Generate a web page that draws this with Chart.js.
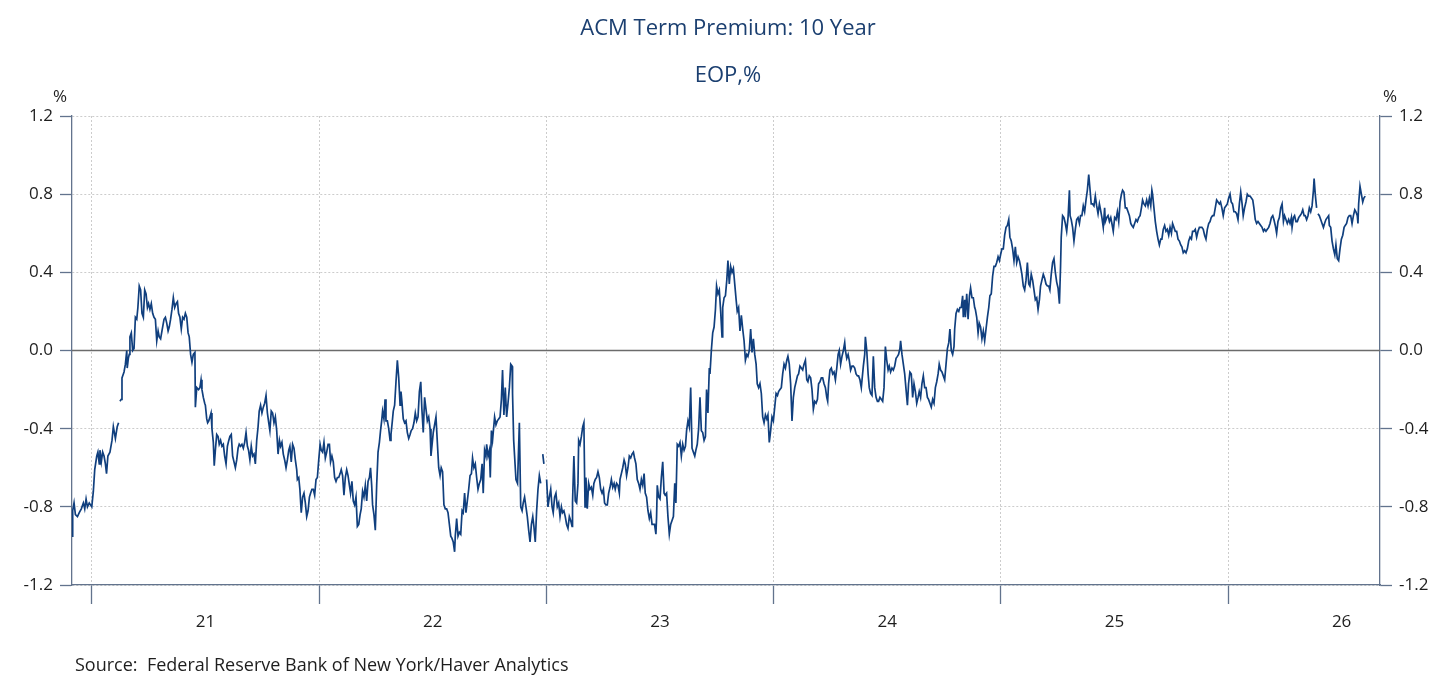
<!DOCTYPE html>
<html lang="en">
<head>
<meta charset="UTF-8">
<title>ACM Term Premium: 10 Year</title>
<style>
  html, body { margin: 0; padding: 0; background: #ffffff; }
  #wrap { width: 1456px; height: 684px; }
</style>
</head>
<body>
<div id="wrap"><canvas id="acmChart" width="1456" height="684"></canvas></div>
<script src="https://cdn.jsdelivr.net/npm/chart.js@4.4.3/dist/chart.umd.min.js"></script>
<script>
// texts
const chartTitle = 'ACM Term Premium: 10 Year';
const chartSubtitle = 'EOP,%';
const unitLabel = '%';
const sourceNote = 'Source:  Federal Reserve Bank of New York/Haver Analytics';

// axes
const years = [2021, 2022, 2023, 2024, 2025, 2026];
const yearLabels = ['21', '22', '23', '24', '25', '26'];
const yTicks = [-1.2, -0.8, -0.4, 0, 0.4, 0.8, 1.2];
const xStart = 2020.912;
const xEnd = 2026.669;

// [decimal year, term premium %]; null = break in the line
const termPremium = [
  [2020.912,-0.95],[2020.915,-0.82],[2020.921,-0.78],[2020.927,-0.84],[2020.936,-0.85],[2020.944,-0.83],[2020.953,-0.81],[2020.962,-0.78],[2020.968,-0.81],[2020.974,-0.76],
  [2020.980,-0.80],[2020.988,-0.78],[2020.999,-0.80],[2021.006,-0.72],[2021.012,-0.61],[2021.021,-0.54],[2021.026,-0.52],[2021.032,-0.58],[2021.035,-0.51],[2021.041,-0.57],
  [2021.047,-0.52],[2021.053,-0.54],[2021.059,-0.58],[2021.064,-0.63],[2021.070,-0.54],[2021.079,-0.52],[2021.088,-0.46],[2021.094,-0.39],[2021.103,-0.45],[2021.111,-0.39],
  [2021.117,-0.37],[2021.120,null],[2021.123,-0.26],[2021.129,-0.25],[2021.132,-0.14],[2021.141,-0.11],[2021.147,-0.07],[2021.153,0.00],[2021.155,-0.09],[2021.160,-0.04],
  [2021.164,-0.02],[2021.167,0.07],[2021.173,0.09],[2021.179,0.00],[2021.185,0.01],[2021.191,0.17],[2021.197,0.16],[2021.202,0.22],[2021.208,0.33],[2021.214,0.31],
  [2021.220,0.19],[2021.226,0.17],[2021.232,0.31],[2021.238,0.29],[2021.244,0.22],[2021.249,0.24],[2021.255,0.21],[2021.261,0.24],[2021.267,0.19],[2021.273,0.17],
  [2021.279,0.16],[2021.285,0.05],[2021.291,0.10],[2021.296,0.07],[2021.302,0.06],[2021.308,0.10],[2021.317,0.16],[2021.323,0.17],[2021.329,0.14],[2021.335,0.10],
  [2021.340,0.12],[2021.346,0.16],[2021.352,0.21],[2021.358,0.27],[2021.364,0.22],[2021.370,0.24],[2021.376,0.25],[2021.381,0.19],[2021.387,0.17],[2021.393,0.11],
  [2021.399,0.17],[2021.405,0.16],[2021.411,0.19],[2021.417,0.17],[2021.423,0.09],[2021.428,0.07],[2021.434,-0.02],[2021.440,-0.06],[2021.446,-0.02],[2021.453,-0.01],
  [2021.455,-0.29],[2021.461,-0.19],[2021.469,-0.20],[2021.475,-0.19],[2021.480,-0.15],[2021.484,-0.20],[2021.490,-0.24],[2021.496,-0.27],[2021.499,-0.28],[2021.505,-0.35],
  [2021.509,-0.37],[2021.514,-0.36],[2021.519,-0.34],[2021.524,-0.32],[2021.528,-0.40],[2021.534,-0.47],[2021.538,-0.59],[2021.543,-0.51],[2021.549,-0.43],[2021.555,-0.44],
  [2021.560,-0.48],[2021.566,-0.46],[2021.572,-0.49],[2021.578,-0.48],[2021.584,-0.54],[2021.590,-0.58],[2021.596,-0.49],[2021.602,-0.46],[2021.607,-0.44],[2021.613,-0.43],
  [2021.619,-0.54],[2021.625,-0.57],[2021.631,-0.60],[2021.637,-0.56],[2021.643,-0.50],[2021.648,-0.48],[2021.654,-0.49],[2021.660,-0.48],[2021.666,-0.50],[2021.672,-0.47],
  [2021.678,-0.42],[2021.684,-0.49],[2021.689,-0.51],[2021.695,-0.56],[2021.701,-0.49],[2021.707,-0.54],[2021.713,-0.53],[2021.719,-0.58],[2021.725,-0.46],[2021.731,-0.39],
  [2021.736,-0.31],[2021.742,-0.28],[2021.748,-0.32],[2021.754,-0.29],[2021.760,-0.27],[2021.766,-0.23],[2021.772,-0.32],[2021.778,-0.37],[2021.783,-0.41],[2021.789,-0.31],
  [2021.795,-0.32],[2021.801,-0.37],[2021.807,-0.34],[2021.813,-0.41],[2021.819,-0.53],[2021.825,-0.46],[2021.830,-0.49],[2021.836,-0.47],[2021.842,-0.53],[2021.848,-0.56],
  [2021.854,-0.60],[2021.860,-0.56],[2021.866,-0.51],[2021.871,-0.49],[2021.877,-0.57],[2021.883,-0.48],[2021.889,-0.50],[2021.895,-0.56],[2021.901,-0.61],[2021.904,-0.66],
  [2021.910,-0.65],[2021.915,-0.71],[2021.921,-0.83],[2021.927,-0.75],[2021.933,-0.73],[2021.939,-0.78],[2021.945,-0.85],[2021.951,-0.82],[2021.957,-0.75],[2021.962,-0.73],
  [2021.968,-0.71],[2021.974,-0.71],[2021.980,-0.74],[2021.986,-0.66],[2021.992,-0.65],[2021.998,-0.56],[2022.004,-0.48],[2022.009,-0.51],[2022.015,-0.52],[2022.021,-0.47],
  [2022.027,-0.55],[2022.033,-0.52],[2022.039,-0.48],[2022.045,-0.48],[2022.050,-0.57],[2022.056,-0.54],[2022.062,-0.57],[2022.068,-0.65],[2022.074,-0.67],[2022.080,-0.65],
  [2022.086,-0.65],[2022.092,-0.63],[2022.097,-0.61],[2022.103,-0.64],[2022.109,-0.74],[2022.115,-0.65],[2022.121,-0.61],[2022.127,-0.64],[2022.133,-0.69],[2022.138,-0.73],
  [2022.144,-0.67],[2022.150,-0.77],[2022.156,-0.79],[2022.162,-0.75],[2022.168,-0.90],[2022.174,-0.89],[2022.180,-0.84],[2022.185,-0.81],[2022.191,-0.72],[2022.197,-0.75],
  [2022.203,-0.69],[2022.209,-0.77],[2022.215,-0.67],[2022.221,-0.65],[2022.226,-0.60],[2022.231,-0.69],[2022.235,-0.79],[2022.241,-0.84],[2022.247,-0.92],[2022.253,-0.69],
  [2022.259,-0.52],[2022.265,-0.47],[2022.270,-0.41],[2022.275,-0.36],[2022.279,-0.31],[2022.285,-0.35],[2022.290,-0.25],[2022.294,-0.36],[2022.300,-0.36],[2022.306,-0.40],
  [2022.312,-0.46],[2022.316,-0.43],[2022.322,-0.36],[2022.326,-0.31],[2022.332,-0.28],[2022.338,-0.16],[2022.344,-0.05],[2022.350,-0.14],[2022.356,-0.28],[2022.360,-0.21],
  [2022.364,-0.26],[2022.370,-0.35],[2022.376,-0.37],[2022.382,-0.36],[2022.388,-0.42],[2022.394,-0.45],[2022.400,-0.43],[2022.405,-0.41],[2022.411,-0.40],[2022.417,-0.37],
  [2022.423,-0.32],[2022.429,-0.36],[2022.435,-0.34],[2022.441,-0.21],[2022.447,-0.16],[2022.452,-0.30],[2022.458,-0.42],[2022.464,-0.24],[2022.470,-0.30],[2022.476,-0.36],
  [2022.482,-0.34],[2022.488,-0.40],[2022.492,-0.54],[2022.502,-0.42],[2022.508,-0.38],[2022.514,-0.34],[2022.520,-0.47],[2022.526,-0.60],[2022.532,-0.64],[2022.537,-0.60],
  [2022.543,-0.62],[2022.549,-0.79],[2022.555,-0.81],[2022.561,-0.81],[2022.567,-0.83],[2022.573,-0.89],[2022.579,-0.95],[2022.584,-0.96],[2022.590,-0.98],[2022.596,-1.03],
  [2022.599,-0.95],[2022.605,-0.86],[2022.611,-0.95],[2022.617,-0.93],[2022.623,-0.94],[2022.629,-0.82],[2022.634,-0.83],[2022.640,-0.73],[2022.646,-0.83],[2022.652,-0.77],
  [2022.658,-0.71],[2022.664,-0.64],[2022.670,-0.63],[2022.675,-0.55],[2022.681,-0.60],[2022.687,-0.58],[2022.693,-0.65],[2022.699,-0.71],[2022.705,-0.68],[2022.711,-0.66],
  [2022.717,-0.58],[2022.722,-0.73],[2022.728,-0.51],[2022.734,-0.54],[2022.737,-0.48],[2022.743,-0.54],[2022.749,-0.51],[2022.753,-0.65],[2022.758,-0.41],[2022.763,-0.46],
  [2022.772,-0.34],[2022.778,-0.38],[2022.784,-0.36],[2022.790,-0.35],[2022.796,-0.34],[2022.802,-0.25],[2022.807,-0.10],[2022.813,-0.33],[2022.819,-0.19],[2022.825,-0.34],
  [2022.831,-0.27],[2022.837,-0.19],[2022.843,-0.07],[2022.849,-0.08],[2022.851,-0.22],[2022.856,-0.46],[2022.866,-0.66],[2022.873,-0.68],[2022.881,-0.37],[2022.887,-0.80],
  [2022.893,-0.82],[2022.898,-0.78],[2022.904,-0.75],[2022.910,-0.80],[2022.916,-0.85],[2022.922,-0.92],[2022.928,-0.98],[2022.934,-0.89],[2022.940,-0.85],[2022.945,-0.90],
  [2022.951,-0.98],[2022.957,-0.82],[2022.963,-0.71],[2022.969,-0.64],[2022.975,-0.68],[2022.979,null],[2022.984,-0.53],[2022.989,-0.58],[2022.995,null],[2023.001,-0.66],
  [2023.007,-0.80],[2023.013,-0.75],[2023.019,-0.71],[2023.025,-0.80],[2023.030,-0.83],[2023.036,-0.75],[2023.042,-0.73],[2023.048,-0.80],[2023.054,-0.78],[2023.060,-0.85],
  [2023.066,-0.80],[2023.071,-0.83],[2023.077,-0.82],[2023.083,-0.85],[2023.089,-0.89],[2023.095,-0.91],[2023.101,-0.85],[2023.107,-0.87],[2023.113,-0.90],[2023.115,-0.78],
  [2023.121,-0.54],[2023.127,-0.77],[2023.133,-0.78],[2023.139,-0.68],[2023.142,-0.46],[2023.148,-0.48],[2023.154,-0.44],[2023.160,-0.39],[2023.165,-0.37],
  [2023.170,-0.80],[2023.174,-0.65],[2023.180,-0.81],[2023.186,-0.68],[2023.192,-0.71],[2023.198,-0.70],[2023.204,-0.74],[2023.209,-0.68],[2023.215,-0.66],[2023.221,-0.65],
  [2023.227,-0.62],[2023.233,-0.65],[2023.239,-0.71],[2023.245,-0.73],[2023.251,-0.71],[2023.256,-0.78],[2023.262,-0.79],[2023.268,-0.79],[2023.274,-0.73],[2023.280,-0.70],
  [2023.286,-0.66],[2023.292,-0.70],[2023.298,-0.68],[2023.303,-0.71],[2023.309,-0.68],[2023.315,-0.69],[2023.321,-0.73],[2023.324,-0.66],[2023.330,-0.63],[2023.336,-0.60],
  [2023.342,-0.56],[2023.347,-0.58],[2023.353,-0.64],[2023.359,-0.60],[2023.365,-0.54],[2023.371,-0.55],[2023.377,-0.53],[2023.383,-0.52],[2023.388,-0.55],[2023.394,-0.58],
  [2023.400,-0.66],[2023.406,-0.68],[2023.412,-0.71],[2023.418,-0.66],[2023.424,-0.69],[2023.430,-0.63],[2023.435,-0.73],[2023.441,-0.75],[2023.447,-0.82],[2023.453,-0.86],
  [2023.459,-0.83],[2023.465,-0.89],[2023.471,-0.89],[2023.476,-0.89],[2023.482,-0.94],[2023.485,-0.85],[2023.488,-0.69],[2023.494,-0.75],[2023.500,-0.76],[2023.506,-0.65],
  [2023.512,-0.57],[2023.518,-0.73],[2023.523,-0.74],[2023.529,-0.73],[2023.535,-0.85],[2023.541,-0.94],[2023.547,-0.89],[2023.553,-0.87],[2023.559,-0.85],[2023.565,-0.68],
  [2023.570,-0.78],[2023.576,-0.48],[2023.582,-0.49],[2023.588,-0.47],[2023.594,-0.54],[2023.600,-0.48],[2023.606,-0.51],[2023.612,-0.49],[2023.617,-0.41],[2023.623,-0.36],
  [2023.629,-0.39],[2023.635,-0.19],[2023.641,-0.50],[2023.647,-0.52],[2023.653,-0.54],[2023.658,-0.51],[2023.664,-0.48],[2023.670,-0.40],[2023.676,-0.24],[2023.682,-0.41],
  [2023.688,-0.42],[2023.694,-0.46],[2023.700,-0.44],[2023.705,-0.20],[2023.711,-0.32],[2023.717,-0.09],
  [2023.720,-0.12],[2023.726,0.00],[2023.732,0.09],[2023.738,0.12],[2023.744,0.21],[2023.749,0.33],[2023.755,0.29],[2023.761,0.31],[2023.767,0.20],[2023.773,0.07],
  [2023.776,0.22],[2023.782,0.27],[2023.788,0.28],[2023.794,0.36],[2023.799,0.46],[2023.805,0.34],[2023.811,0.43],[2023.817,0.40],[2023.823,0.42],[2023.829,0.34],
  [2023.835,0.26],[2023.840,0.20],[2023.846,0.22],[2023.852,0.10],[2023.858,0.18],[2023.864,0.11],[2023.870,0.05],[2023.876,-0.05],[2023.882,-0.02],[2023.887,-0.03],
  [2023.893,0.00],[2023.899,0.11],[2023.905,-0.01],[2023.911,0.06],[2023.917,-0.02],[2023.923,-0.07],[2023.928,-0.17],[2023.934,-0.19],[2023.940,-0.17],[2023.946,-0.22],
  [2023.952,-0.34],[2023.958,-0.37],[2023.964,-0.33],[2023.970,-0.35],[2023.975,-0.33],[2023.981,-0.47],[2023.987,-0.41],[2023.993,-0.34],[2023.999,-0.36],[2024.005,-0.29],
  [2024.011,-0.22],[2024.017,-0.23],[2024.022,-0.21],[2024.028,-0.20],[2024.034,-0.19],[2024.040,-0.12],[2024.046,-0.07],[2024.052,-0.09],[2024.058,-0.05],[2024.063,-0.03],
  [2024.069,-0.07],[2024.075,-0.17],[2024.081,-0.36],[2024.087,-0.24],[2024.093,-0.19],[2024.099,-0.16],[2024.105,-0.13],[2024.110,-0.12],[2024.116,-0.08],[2024.122,-0.09],
  [2024.128,-0.10],[2024.134,-0.07],[2024.140,-0.05],[2024.146,-0.15],[2024.151,-0.16],[2024.157,-0.13],[2024.163,-0.14],[2024.169,-0.20],[2024.175,-0.30],[2024.181,-0.26],
  [2024.187,-0.27],[2024.193,-0.25],[2024.198,-0.17],[2024.204,-0.16],[2024.210,-0.14],[2024.216,-0.14],[2024.222,-0.17],[2024.228,-0.19],[2024.234,-0.24],[2024.238,-0.26],
  [2024.242,-0.17],[2024.248,-0.10],[2024.254,-0.09],[2024.260,-0.12],[2024.266,-0.11],[2024.272,-0.15],[2024.278,-0.09],[2024.284,-0.02],[2024.289,0.00],[2024.295,-0.07],
  [2024.301,-0.03],[2024.307,0.00],[2024.313,0.04],
  [2024.316,0.00],[2024.322,-0.04],[2024.328,-0.02],[2024.333,-0.05],[2024.339,-0.10],[2024.345,-0.08],[2024.351,-0.08],[2024.357,-0.09],[2024.363,-0.12],[2024.369,-0.13],
  [2024.374,-0.13],[2024.380,-0.15],[2024.386,-0.19],[2024.389,-0.19],[2024.395,-0.08],[2024.401,-0.02],[2024.404,0.07],[2024.410,0.00],[2024.416,-0.12],[2024.421,-0.19],
  [2024.427,-0.22],[2024.433,-0.23],[2024.439,-0.03],[2024.445,-0.19],[2024.451,-0.24],[2024.457,-0.26],[2024.462,-0.26],[2024.468,-0.24],[2024.474,-0.25],[2024.480,-0.26],
  [2024.486,-0.19],[2024.492,0.02],[2024.498,-0.05],[2024.504,-0.10],[2024.509,-0.08],[2024.515,-0.11],[2024.521,-0.09],[2024.527,-0.10],[2024.533,-0.08],[2024.539,-0.04],
  [2024.545,-0.03],[2024.550,-0.02],[2024.556,0.01],[2024.559,0.05],[2024.565,-0.02],[2024.571,-0.07],[2024.577,-0.12],[2024.583,-0.20],[2024.589,-0.28],[2024.594,-0.17],
  [2024.600,-0.11],[2024.606,-0.12],[2024.612,-0.24],[2024.618,-0.17],[2024.624,-0.21],[2024.630,-0.27],[2024.636,-0.24],[2024.641,-0.21],[2024.647,-0.24],[2024.653,-0.17],
  [2024.659,-0.13],[2024.665,-0.19],[2024.671,-0.19],[2024.677,-0.24],[2024.682,-0.25],[2024.688,-0.27],[2024.694,-0.29],[2024.700,-0.25],[2024.706,-0.27],[2024.712,-0.19],
  [2024.718,-0.16],[2024.724,-0.12],[2024.729,-0.07],[2024.735,-0.10],[2024.741,-0.11],[2024.747,-0.13],[2024.753,-0.15],[2024.759,-0.07],[2024.765,0.01],[2024.771,0.04],
  [2024.776,0.11],[2024.782,0.00],[2024.788,-0.02],[2024.794,0.02],[2024.797,0.11],[2024.803,0.19],[2024.809,0.21],[2024.815,0.20],[2024.820,0.22],[2024.826,0.22],
  [2024.832,0.28],[2024.835,0.17],[2024.841,0.26],[2024.844,0.17],[2024.850,0.29],[2024.856,0.16],[2024.862,0.28],[2024.867,0.32],[2024.873,0.27],[2024.879,0.27],
  [2024.885,0.22],
  [2024.888,0.21],[2024.894,0.17],[2024.900,0.09],[2024.905,0.14],[2024.911,0.12],[2024.917,0.06],[2024.923,0.10],[2024.929,0.05],[2024.935,0.11],[2024.941,0.17],
  [2024.947,0.22],[2024.952,0.28],[2024.958,0.29],[2024.964,0.38],[2024.970,0.43],[2024.976,0.43],[2024.982,0.45],[2024.988,0.48],[2024.994,0.46],[2024.999,0.49],
  [2025.005,0.52],[2025.011,0.52],[2025.017,0.59],[2025.023,0.63],[2025.029,0.64],[2025.035,0.67],[2025.040,0.58],[2025.046,0.56],[2025.052,0.52],[2025.058,0.46],
  [2025.064,0.53],[2025.070,0.45],[2025.076,0.48],[2025.082,0.46],[2025.087,0.43],[2025.093,0.39],[2025.099,0.33],[2025.105,0.31],[2025.111,0.36],[2025.117,0.45],
  [2025.123,0.34],[2025.128,0.33],[2025.134,0.39],[2025.140,0.36],[2025.146,0.31],[2025.152,0.26],[2025.158,0.27],[2025.164,0.21],[2025.170,0.26],[2025.175,0.33],
  [2025.181,0.36],[2025.187,0.39],[2025.193,0.37],[2025.199,0.34],[2025.205,0.33],[2025.211,0.33],[2025.216,0.31],[2025.222,0.39],[2025.228,0.45],[2025.234,0.47],
  [2025.240,0.40],[2025.246,0.35],[2025.252,0.32],[2025.258,0.24],[2025.263,0.43],[2025.266,0.58],[2025.272,0.69],[2025.278,0.68],[2025.284,0.65],[2025.290,0.61],
  [2025.296,0.68],[2025.302,0.82],[2025.305,0.69],[2025.310,0.67],[2025.316,0.63],[2025.322,0.56],[2025.328,0.62],[2025.334,0.67],[2025.340,0.68],[2025.346,0.65],
  [2025.351,0.69],[2025.357,0.69],[2025.363,0.74],[2025.369,0.71],[2025.375,0.77],[2025.381,0.82],[2025.387,0.90],[2025.393,0.82],[2025.398,0.75],[2025.404,0.75],
  [2025.410,0.74],[2025.416,0.79],[2025.422,0.74],[2025.428,0.70],[2025.434,0.75],[2025.439,0.72],[2025.445,0.68],[2025.451,0.63],[2025.457,0.73],
  [2025.460,0.66],[2025.466,0.68],[2025.472,0.69],[2025.478,0.66],[2025.484,0.68],[2025.489,0.65],[2025.495,0.61],[2025.501,0.68],[2025.507,0.67],[2025.513,0.71],
  [2025.519,0.66],[2025.525,0.76],[2025.531,0.80],[2025.536,0.82],[2025.542,0.81],[2025.548,0.73],[2025.554,0.73],[2025.560,0.71],[2025.566,0.69],[2025.572,0.65],
  [2025.577,0.64],[2025.583,0.63],[2025.589,0.65],[2025.595,0.67],[2025.601,0.66],[2025.607,0.68],[2025.613,0.69],[2025.619,0.73],[2025.624,0.77],[2025.630,0.75],
  [2025.636,0.74],[2025.642,0.77],[2025.648,0.74],[2025.654,0.78],[2025.660,0.74],[2025.665,0.82],[2025.668,0.80],[2025.674,0.73],[2025.680,0.66],[2025.686,0.61],
  [2025.692,0.57],[2025.698,0.54],[2025.704,0.57],[2025.709,0.57],[2025.715,0.62],[2025.721,0.64],[2025.727,0.61],[2025.733,0.62],[2025.739,0.59],[2025.745,0.63],
  [2025.751,0.60],[2025.756,0.65],[2025.762,0.63],[2025.768,0.61],[2025.774,0.61],[2025.780,0.57],[2025.786,0.56],[2025.792,0.54],[2025.797,0.53],[2025.803,0.50],
  [2025.809,0.51],[2025.815,0.50],[2025.821,0.52],[2025.827,0.56],[2025.833,0.58],[2025.839,0.57],[2025.844,0.61],[2025.850,0.61],[2025.856,0.62],[2025.862,0.58],
  [2025.868,0.61],[2025.874,0.63],[2025.880,0.63],[2025.885,0.63],[2025.891,0.62],[2025.897,0.59],[2025.903,0.57],[2025.909,0.62],[2025.915,0.65],[2025.921,0.66],
  [2025.926,0.68],[2025.932,0.69],[2025.938,0.69],[2025.944,0.73],[2025.950,0.77],[2025.956,0.76],[2025.962,0.75],[2025.967,0.76],[2025.973,0.73],[2025.979,0.69],
  [2025.985,0.73],[2025.991,0.74],[2025.997,0.75],[2026.003,0.78],[2026.009,0.80],[2026.014,0.76],[2026.020,0.75],[2026.026,0.71],
  [2026.032,0.71],[2026.038,0.70],[2026.044,0.67],[2026.050,0.75],[2026.056,0.81],[2026.062,0.75],[2026.067,0.69],[2026.073,0.73],[2026.079,0.76],[2026.085,0.80],
  [2026.091,0.79],[2026.097,0.79],[2026.103,0.78],[2026.109,0.77],[2026.114,0.73],[2026.120,0.67],[2026.126,0.65],[2026.132,0.66],[2026.138,0.65],[2026.144,0.64],
  [2026.150,0.63],[2026.156,0.61],[2026.161,0.62],[2026.167,0.61],[2026.173,0.62],[2026.179,0.63],[2026.185,0.65],[2026.191,0.68],[2026.197,0.69],[2026.202,0.67],
  [2026.208,0.64],[2026.214,0.60],[2026.220,0.66],[2026.226,0.68],[2026.232,0.73],[2026.238,0.75],[2026.244,0.66],[2026.249,0.69],[2026.255,0.67],[2026.261,0.65],
  [2026.267,0.67],[2026.273,0.65],[2026.279,0.68],[2026.282,0.63],[2026.288,0.68],[2026.293,0.69],[2026.299,0.66],[2026.305,0.66],[2026.311,0.68],[2026.317,0.69],
  [2026.323,0.70],[2026.329,0.72],[2026.335,0.69],[2026.340,0.69],[2026.346,0.67],[2026.352,0.69],[2026.358,0.73],[2026.364,0.71],[2026.370,0.74],[2026.376,0.82],
  [2026.379,0.88],[2026.384,0.80],[2026.390,0.73],[2026.393,null],[2026.396,0.70],[2026.402,0.69],[2026.408,0.67],[2026.414,0.65],[2026.420,0.63],[2026.425,0.65],
  [2026.431,0.67],[2026.437,0.68],[2026.443,0.69],[2026.446,0.64],[2026.452,0.63],[2026.458,0.56],[2026.464,0.52],[2026.470,0.49],[2026.475,0.54],[2026.481,0.47],
  [2026.487,0.46],[2026.493,0.52],[2026.499,0.57],[2026.505,0.59],[2026.511,0.63],[2026.516,0.64],[2026.522,0.65],[2026.528,0.68],[2026.534,0.69],[2026.540,0.69],
  [2026.546,0.65],[2026.552,0.69],[2026.558,0.72],[2026.563,0.71],[2026.569,0.69],[2026.572,0.65],[2026.575,0.75],[2026.581,0.84],[2026.587,0.80],[2026.593,0.76],
  [2026.598,0.78],[2026.604,0.79]
];

// colours
const lineColor = '#103f7e';
const titleColor = '#1b3f70';
const axisColor = '#62738d';
const gridColor = '#cccccc';
const zeroColor = '#6b6b6b';
const textColor = '#1e1e1e';
const fontFamily = '"Open Sans", "Noto Sans", sans-serif';

Chart.defaults.font.family = fontFamily;
Chart.defaults.color = textColor;

const isYear = v => Math.abs(v - Math.round(v)) < 1e-6;

// title, subtitle, unit marks, source note and the solid zero line
const chartDecor = {
  id: 'chartDecor',
  beforeDatasetsDraw(chart) {
    const { ctx, chartArea, scales } = chart;
    const y0 = scales.y.getPixelForValue(0);
    ctx.save();
    ctx.strokeStyle = zeroColor;
    ctx.lineWidth = 1.5;
    ctx.beginPath();
    ctx.moveTo(chartArea.left, y0);
    ctx.lineTo(chartArea.right, y0);
    ctx.stroke();
    ctx.restore();
  },
  afterDraw(chart) {
    const { ctx, chartArea, width } = chart;
    ctx.save();
    ctx.textBaseline = 'middle';
    ctx.fillStyle = titleColor;
    ctx.font = '22px ' + fontFamily;
    ctx.textAlign = 'center';
    ctx.fillText(chartTitle, width / 2, 29);
    ctx.fillText(chartSubtitle, width / 2, 76);

    ctx.fillStyle = textColor;
    ctx.font = '17px ' + fontFamily;
    ctx.fillText(unitLabel, chartArea.left - 12, 97);
    ctx.fillText(unitLabel, chartArea.right + 10, 97);

    ctx.textAlign = 'left';
    ctx.font = '18px ' + fontFamily;
    ctx.fillText(sourceNote, 75, 666);
    ctx.restore();
  }
};

const yAxisBase = {
  min: yTicks[0],
  max: yTicks[yTicks.length - 1],
  afterBuildTicks: scale => { scale.ticks = yTicks.map(v => ({ value: v })); },
  ticks: {
    padding: 7,
    color: textColor,
    font: { size: 17 },
    callback: v => v.toFixed(1)
  },
  border: { color: axisColor, width: 1.3, dash: [2, 2] }
};

new Chart(document.getElementById('acmChart'), {
  type: 'line',
  data: {
    datasets: [{
      label: chartTitle,
      data: termPremium.map(([x, y]) => ({ x, y })),
      borderColor: lineColor,
      borderWidth: 1.7,
      pointRadius: 0,
      tension: 0,
      spanGaps: false,
      fill: false
    }]
  },
  options: {
    responsive: false,
    animation: false,
    layout: { padding: { top: 116, left: 0, right: 0, bottom: 0 } },
    plugins: {
      legend: { display: false },
      title: { display: false },
      tooltip: { enabled: false }
    },
    scales: {
      x: {
        type: 'linear',
        min: xStart,
        max: xEnd,
        afterBuildTicks: scale => {
          const t = [];
          years.forEach(v => { t.push({ value: v }); t.push({ value: v + 0.5 }); });
          scale.ticks = t;
        },
        afterFit: scale => { scale.height = 99; },
        ticks: {
          autoSkip: false,
          maxRotation: 0,
          padding: 8,
          color: textColor,
          font: { size: 17 },
          callback: v => isYear(v) ? '' : yearLabels[years.indexOf(Math.round(v - 0.5))]
        },
        grid: {
          color: c => (c.tick && isYear(c.tick.value)) ? gridColor : 'rgba(0,0,0,0)',
          tickColor: c => (c.tick && isYear(c.tick.value)) ? axisColor : 'rgba(0,0,0,0)',
          tickLength: 19,
          tickWidth: 1.3,
          lineWidth: 1
        },
        border: { color: axisColor, width: 1.3, dash: [2, 2] }
      },
      y: Object.assign({}, yAxisBase, {
        position: 'left',
        afterFit: scale => { scale.width = 72; },
        grid: {
          color: c => (c.tick && c.tick.value === 0) ? 'rgba(0,0,0,0)' : gridColor,
          tickColor: axisColor,
          tickLength: 12,
          tickWidth: 1.3,
          lineWidth: 1
        }
      }),
      y2: Object.assign({}, yAxisBase, {
        position: 'right',
        afterFit: scale => { scale.width = 76; },
        grid: {
          drawOnChartArea: false,
          tickColor: axisColor,
          tickLength: 12,
          tickWidth: 1.3
        }
      })
    }
  },
  plugins: [chartDecor]
});
</script>
</body>
</html>
